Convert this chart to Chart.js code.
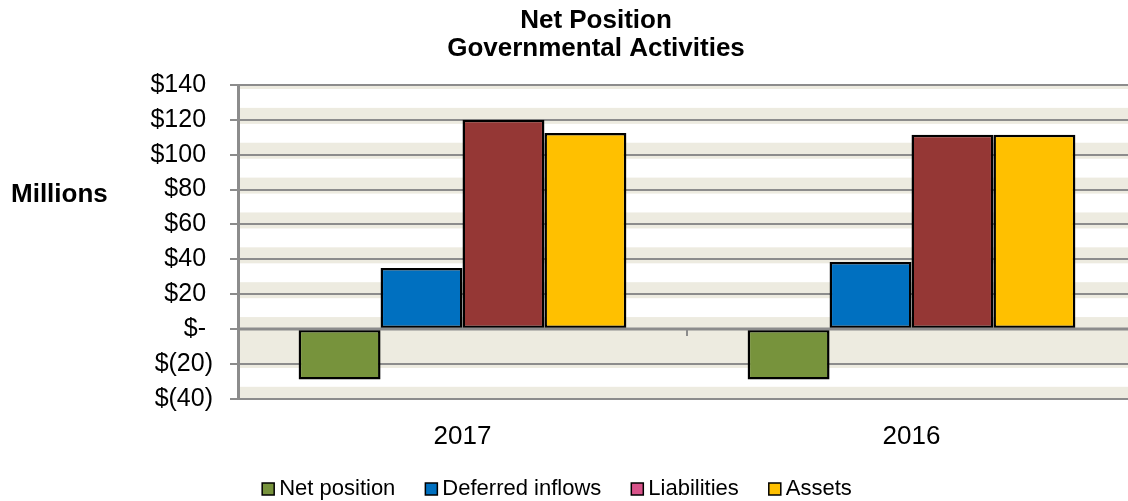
<!DOCTYPE html>
<html>
<head>
<meta charset="utf-8">
<script src="https://cdn.jsdelivr.net/npm/chart.js"></script>
<style>
  html, body { margin: 0; padding: 0; background: #fff; overflow: hidden; }
  #wrap { width: 1136px; height: 501px; }
</style>
</head>
<body>
<div id="wrap"><canvas id="myChart"></canvas></div>
<script>
const years = ["2017", "2016"];
const netPosition = [-29, -29];
const deferredInflows = [35, 38.5];
const liabilities = [120, 111.5];
const assets = [112.5, 111.5];
const yTicks = [140, 120, 100, 80, 60, 40, 20, 0, -20, -40];

const FONT = "'Liberation Sans', Arial, sans-serif";
const legendColors = ["#77933C", "#0070C0", "#D8538A", "#FFC000"];

// striped plot background, titles and the "Millions" label
const paper = {
  id: "paper",
  beforeDraw(chart) {
    const { ctx, chartArea: a, scales: { y } } = chart;
    ctx.save();
    ctx.beginPath();
    ctx.rect(a.left, a.top, a.right - a.left, a.bottom - a.top);
    ctx.clip();
    ctx.fillStyle = "#EDEBE0";
    yTicks.forEach(v => {
      const py = y.getPixelForValue(v);
      ctx.fillRect(a.left, py - 12, a.right - a.left, 16);
    });
    const z = y.getPixelForValue(0);
    ctx.fillRect(a.left, z, a.right - a.left, y.getPixelForValue(-20) - z);
    ctx.restore();

    ctx.save();
    ctx.fillStyle = "#000";
    ctx.textAlign = "center";
    ctx.textBaseline = "middle";
    ctx.font = "bold 26px " + FONT;
    ctx.fillText("Net Position", 596, 21);
    ctx.fillText("Governmental Activities", 596, 49);
    ctx.textAlign = "left";
    ctx.fillText("Millions", 11, 195);
    ctx.restore();
  },
  afterDatasetsDraw(chart) {
    // zero line goes over the bars, with the category divider tick
    const { ctx, chartArea: a, scales: { x, y } } = chart;
    const z = y.getPixelForValue(0);
    ctx.save();
    ctx.strokeStyle = "#8C8C8C";
    ctx.lineWidth = 3;
    ctx.beginPath();
    ctx.moveTo(a.left, z);
    ctx.lineTo(a.right, z);
    ctx.stroke();
    const mid = (x.getPixelForValue(0) + x.getPixelForValue(1)) / 2;
    ctx.lineWidth = 2;
    ctx.beginPath();
    ctx.moveTo(mid, z);
    ctx.lineTo(mid, z + 7);
    ctx.stroke();
    ctx.restore();
  },
  afterDraw(chart) {
    // legend row: small squares, tight text, wide gaps
    const ctx = chart.ctx;
    const sets = chart.data.datasets;
    ctx.save();
    ctx.font = "22px " + FONT;
    const box = 12, gap = 5, space = 30;
    const widths = sets.map(ds => ctx.measureText(ds.label).width);
    let total = widths.reduce((s, w) => s + box + gap + w, 0) + space * (sets.length - 1);
    let lx = 557 - total / 2;
    const ly = 489;
    ctx.textBaseline = "middle";
    ctx.textAlign = "left";
    sets.forEach((ds, i) => {
      ctx.fillStyle = legendColors[i];
      ctx.fillRect(lx, ly - box / 2, box, box);
      ctx.strokeStyle = "#000";
      ctx.lineWidth = 1.5;
      ctx.strokeRect(lx, ly - box / 2, box, box);
      ctx.fillStyle = "#000";
      ctx.fillText(ds.label, lx + box + gap, ly);
      lx += box + gap + widths[i] + space;
    });
    ctx.restore();
  }
};

const barStyle = { borderColor: "#000", borderWidth: 2.5, borderSkipped: false };

new Chart(document.getElementById("myChart"), {
  type: "bar",
  data: {
    labels: years,
    datasets: [
      { label: "Net position", data: netPosition, backgroundColor: "#77933C", ...barStyle },
      { label: "Deferred inflows", data: deferredInflows, backgroundColor: "#0070C0", ...barStyle },
      { label: "Liabilities", data: liabilities, backgroundColor: "#953735", ...barStyle },
      { label: "Assets", data: assets, backgroundColor: "#FFC000", ...barStyle }
    ]
  },
  options: {
    responsive: true,
    maintainAspectRatio: false,
    animation: false,
    categoryPercentage: 0.73,
    barPercentage: 1,
    layout: { padding: { top: 85, right: 0, bottom: 35, left: 0 } },
    plugins: {
      title: { display: false },
      tooltip: { enabled: false },
      legend: { display: false }
    },
    scales: {
      x: {
        grid: { display: false },
        border: { display: false },
        ticks: { color: "#000", padding: 14, font: { family: FONT, size: 26 } }
      },
      y: {
        min: -40,
        max: 140,
        afterFit: scale => { scale.width = 238; },
        afterBuildTicks: scale => { scale.ticks = yTicks.map(v => ({ value: v })); },
        grid: { color: "#8C8C8C", lineWidth: 2, tickLength: 8 },
        border: { color: "#8C8C8C", width: 3 },
        ticks: {
          color: "#000",
          padding: 17,
          autoSkip: false,
          font: { family: FONT, size: 25 },
          callback: v => v === 0 ? "$-\u00a0" : v < 0 ? "$(" + (-v) + ")" : "$" + v + "\u00a0"
        }
      }
    }
  },
  plugins: [paper]
});
</script>
</body>
</html>
